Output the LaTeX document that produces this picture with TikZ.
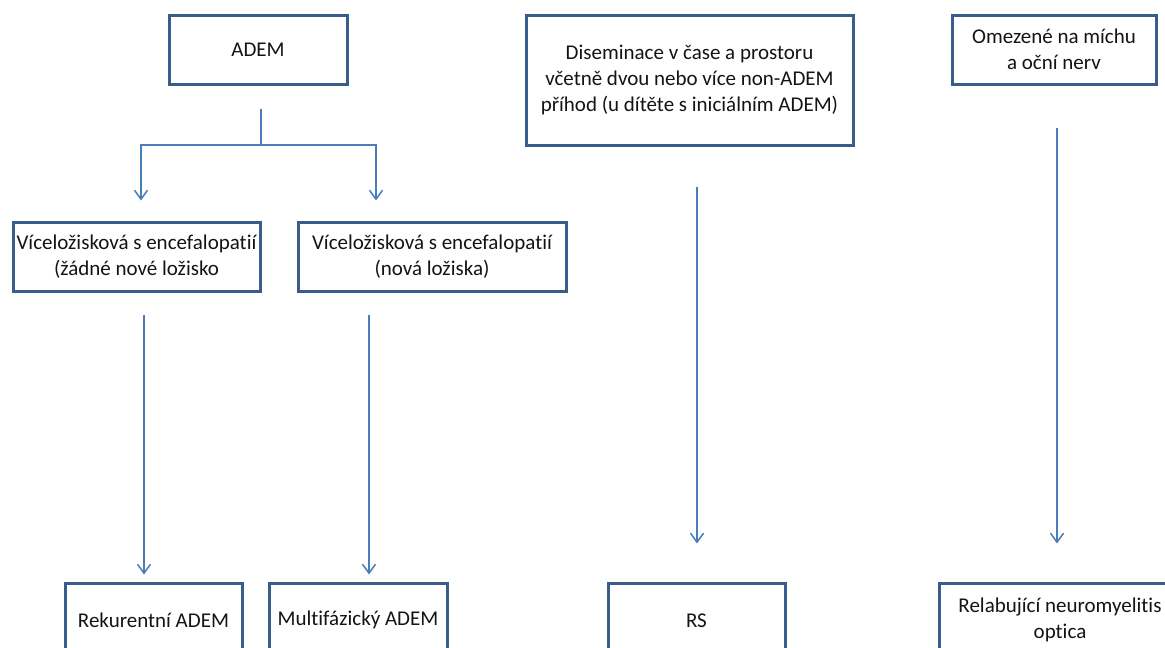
\documentclass[tikz,border=0pt]{standalone}
\usepackage{fontspec}
\setmainfont{Carlito}[Ligatures=NoCommon]
\usetikzlibrary{arrows.meta}
\definecolor{boxc}{RGB}{56,93,138}
\definecolor{arrc}{RGB}{74,126,187}
\definecolor{txtc}{RGB}{20,20,20}
\tikzset{
  box/.style={draw=boxc, line width=3pt, rectangle, inner sep=0pt, align=center,
    text=txtc, font=\fontsize{21}{26}\selectfont},
  link/.style={draw=arrc, line width=1.5pt},
  arr/.style={link, -{Straight Barb[length=9pt,width=13pt,line width=1.5pt]}}
}
\begin{document}
\begin{tikzpicture}[x=1pt,y=-1pt]
\useasboundingbox (0,0) rectangle (1165,648);
\clip (0,0) rectangle (1165,648);
\fill[white] (0,0) rectangle (1165,648);
% boxes
\node[box, minimum width=178pt, minimum height=69pt] (adem) at (258,49.5) {ADEM};
\node[box, minimum width=247pt, minimum height=69pt] (mfl) at (136.5,256.5)
  {Víceložisková s encefalopatií\\(žádné nové ložisko};
\node[box, minimum width=268pt, minimum height=69pt] (mfr) at (432,256.5)
  {Víceložisková s encefalopatií\\(nová ložiska)};
\node[box, minimum width=327pt, minimum height=130pt] (dis) at (689.5,80)
  {Diseminace v čase a prostoru\\včetně dvou nebo více non-ADEM\\příhod (u dítěte s iniciálním ADEM)};
\node[box, minimum width=204pt, minimum height=69pt] (ome) at (1054,49.5)
  {Omezené na míchu\\a oční nerv};
\node[box, minimum width=177pt, minimum height=75pt] (rek) at (153.5,620.5) {Rekurentní ADEM};
\node[box, minimum width=178pt, minimum height=75pt] (mul) at (358,620.5) {\raisebox{4pt}{Multifázický ADEM}};
\node[box, minimum width=177pt, minimum height=75pt] (rs) at (696.5,620.5) {RS};
\node[box, minimum width=242pt, minimum height=75pt] (rel) at (1060,620.5)
  {\raisebox{4pt}{\begin{tabular}{@{}c@{}}Relabující neuromyelitis\\optica\end{tabular}}};
% connectors
\coordinate (split) at (261,145);
\draw[link] ([xshift=3pt,yshift=-23pt]adem.south) -- (split);
\draw[arr] (split) -| ([xshift=4.5pt,yshift=20pt]mfl.north);
\draw[arr] (split) -| ([xshift=-56pt,yshift=20pt]mfr.north);
\draw[arr] ([xshift=7.5pt,yshift=-22pt]mfl.south) -- ([xshift=-9.5pt,yshift=7pt]rek.north);
\draw[arr] ([xshift=-63pt,yshift=-22pt]mfr.south) -- ([xshift=11pt,yshift=7pt]mul.north);
\draw[arr] ([xshift=7.5pt,yshift=-40pt]dis.south) -- ([xshift=0.5pt,yshift=38pt]rs.north);
\draw[arr] ([xshift=3pt,yshift=-42pt]ome.south) -- ([xshift=-3pt,yshift=38pt]rel.north);
\end{tikzpicture}
\end{document}
